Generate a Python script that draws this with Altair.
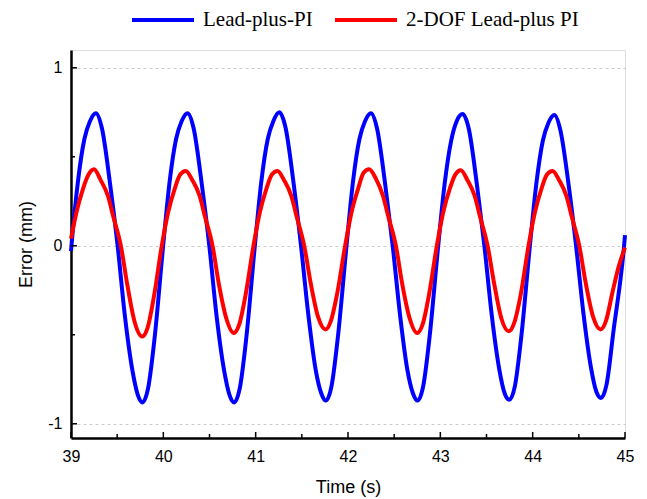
import altair as alt
import pandas as pd

series_names = ["Lead-plus-PI", "2-DOF Lead-plus PI"]
series_colors = ["#0000FF", "#FF0000"]

blue_t = [39.000,
          39.005, 39.075, 39.145, 39.205, 39.270, 39.335, 39.425, 39.505, 39.585, 39.665, 39.725, 39.775, 39.835, 39.905,
          39.998, 40.068, 40.138, 40.198, 40.263, 40.328, 40.418, 40.498, 40.578, 40.658, 40.718, 40.768, 40.828, 40.898,
          40.991, 41.061, 41.131, 41.191, 41.256, 41.321, 41.411, 41.491, 41.571, 41.651, 41.711, 41.761, 41.821, 41.891,
          41.984, 42.054, 42.124, 42.184, 42.249, 42.314, 42.404, 42.484, 42.564, 42.644, 42.704, 42.754, 42.814, 42.884,
          42.977, 43.047, 43.117, 43.177, 43.242, 43.307, 43.397, 43.477, 43.557, 43.637, 43.697, 43.747, 43.807, 43.877,
          43.970, 44.040, 44.110, 44.170, 44.235, 44.300, 44.390, 44.470, 44.550, 44.630, 44.690, 44.740, 44.800, 44.875,
          44.990, 45.000]
blue_v = [-0.03,
          0.00, 0.36, 0.60, 0.70, 0.745, 0.66, 0.34, 0.00, -0.40, -0.70, -0.84, -0.88, -0.80, -0.52,
          0.00, 0.36, 0.60, 0.70, 0.745, 0.66, 0.34, 0.00, -0.40, -0.70, -0.84, -0.88, -0.80, -0.52,
          0.00, 0.36, 0.60, 0.70, 0.750, 0.67, 0.35, 0.00, -0.39, -0.70, -0.83, -0.87, -0.79, -0.51,
          0.00, 0.36, 0.60, 0.70, 0.745, 0.66, 0.34, 0.00, -0.39, -0.70, -0.83, -0.87, -0.79, -0.51,
          0.00, 0.35, 0.59, 0.70, 0.740, 0.66, 0.34, 0.00, -0.39, -0.69, -0.83, -0.865, -0.79, -0.51,
          0.00, 0.35, 0.59, 0.69, 0.735, 0.65, 0.34, 0.00, -0.38, -0.68, -0.82, -0.855, -0.78, -0.48,
          0.00, 0.06]

red_t = [39.000, 39.060, 39.130, 39.190, 39.250, 39.320, 39.400, 39.460, 39.540, 39.610, 39.690, 39.770, 39.830, 39.900,
         39.983, 40.053, 40.123, 40.183, 40.243, 40.313, 40.393, 40.453, 40.533, 40.603, 40.683, 40.763, 40.823, 40.893,
         40.976, 41.046, 41.116, 41.176, 41.236, 41.306, 41.386, 41.446, 41.526, 41.596, 41.676, 41.756, 41.816, 41.886,
         41.969, 42.039, 42.109, 42.169, 42.229, 42.299, 42.379, 42.439, 42.519, 42.589, 42.669, 42.749, 42.809, 42.879,
         42.962, 43.032, 43.102, 43.162, 43.222, 43.292, 43.372, 43.432, 43.512, 43.582, 43.662, 43.742, 43.802, 43.872,
         43.955, 44.025, 44.095, 44.155, 44.215, 44.285, 44.365, 44.425, 44.505, 44.575, 44.655, 44.735, 44.795, 44.865,
         44.930, 45.000]
red_v = [0.04, 0.19, 0.32, 0.40, 0.43, 0.37, 0.28, 0.16, 0.00, -0.22, -0.43, -0.51, -0.46, -0.28,
         0.00, 0.19, 0.32, 0.40, 0.42, 0.37, 0.28, 0.16, 0.00, -0.22, -0.41, -0.49, -0.44, -0.27,
         0.00, 0.19, 0.32, 0.40, 0.42, 0.37, 0.28, 0.16, 0.00, -0.21, -0.40, -0.47, -0.42, -0.26,
         0.00, 0.19, 0.32, 0.41, 0.43, 0.38, 0.28, 0.16, 0.00, -0.22, -0.41, -0.49, -0.44, -0.27,
         0.00, 0.19, 0.32, 0.40, 0.425, 0.37, 0.28, 0.16, 0.00, -0.21, -0.41, -0.48, -0.43, -0.27,
         0.00, 0.19, 0.32, 0.40, 0.42, 0.37, 0.28, 0.16, 0.00, -0.21, -0.40, -0.47, -0.42, -0.26,
         -0.12, -0.01]

x_major = [39, 40, 41, 42, 43, 44, 45]
x_minor = [39.5, 40.5, 41.5, 42.5, 43.5, 44.5]
y_major = [-1, 0, 1]
y_minor = [-0.5, 0.5]

x_domain = [39, 45]
y_domain = [-1.08, 1.1]

W, H = 554, 388

df = pd.concat([
    pd.DataFrame({"t": blue_t, "v": blue_v, "s": series_names[0], "o": 0}),
    pd.DataFrame({"t": red_t, "v": red_v, "s": series_names[1], "o": 1}),
], ignore_index=True)

xs = alt.Scale(domain=x_domain, nice=False, zero=False)
ys = alt.Scale(domain=y_domain, nice=False, zero=False)

x_axis = alt.Axis(
    values=x_major, labelExpr="'' + datum.value", tickSize=0, labelPadding=10, grid=False,
    title="Time (s)", titlePadding=14, domainWidth=2.5, domainColor="black",
    labelFont="Liberation Sans", labelFontSize=16, labelColor="black",
    titleFont="Liberation Sans", titleFontSize=18, titleFontWeight="normal", titleColor="black",
    labelFlush=False)
y_axis = alt.Axis(
    values=y_major, labelExpr="'' + datum.value", tickSize=0, labelPadding=9, grid=True,
    gridDash=[3, 3], gridColor="#cccccc", gridWidth=1,
    title="Error (mm)", titlePadding=12, domainWidth=2.5, domainColor="black",
    labelFont="Liberation Sans", labelFontSize=16, labelColor="black",
    titleFont="Liberation Sans", titleFontSize=18, titleFontWeight="normal", titleColor="black")

lines = alt.Chart(df).mark_line(strokeWidth=4, interpolate="monotone").encode(
    x=alt.X("t:Q", scale=xs, axis=x_axis),
    y=alt.Y("v:Q", scale=ys, axis=y_axis),
    color=alt.Color("s:N", scale=alt.Scale(domain=series_names, range=series_colors),
                    legend=alt.Legend(orient="none", legendX=59, legendY=-63, direction="horizontal",
                                      title=None, symbolType="stroke", symbolSize=3844,
                                      symbolStrokeWidth=4, labelFont="Liberation Serif",
                                      labelFontSize=21, labelColor="black", labelOffset=7,
                                      labelLimit=400, columnPadding=14, padding=0)),
    order=alt.Order("o:Q"),
)

xtick_major = alt.Chart(pd.DataFrame({"t": x_major})).mark_rule(color="black", strokeWidth=1.5).encode(
    x=alt.X("t:Q", scale=xs, axis=x_axis), y=alt.value(H), y2=alt.value(H - 6))
xtick_minor = alt.Chart(pd.DataFrame({"t": x_minor})).mark_rule(color="black", strokeWidth=1.5).encode(
    x=alt.X("t:Q", scale=xs, axis=x_axis), y=alt.value(H), y2=alt.value(H - 4))
ytick_major = alt.Chart(pd.DataFrame({"v": y_major})).mark_rule(color="black", strokeWidth=1.5).encode(
    y=alt.Y("v:Q", scale=ys, axis=y_axis), x=alt.value(0), x2=alt.value(6))
ytick_minor = alt.Chart(pd.DataFrame({"v": y_minor})).mark_rule(color="black", strokeWidth=1.5).encode(
    y=alt.Y("v:Q", scale=ys, axis=y_axis), x=alt.value(0), x2=alt.value(4))

chart = alt.layer(lines, xtick_major, xtick_minor, ytick_major, ytick_minor).properties(
    width=W, height=H,
    autosize=alt.AutoSizeParams(type="none"),
    padding={"left": 63, "top": 42, "right": 14, "bottom": 60},
).configure_view(stroke="black", strokeWidth=1.5).configure(background="white")

chart.save("out.html", embed_options={"renderer": "svg", "actions": False})
